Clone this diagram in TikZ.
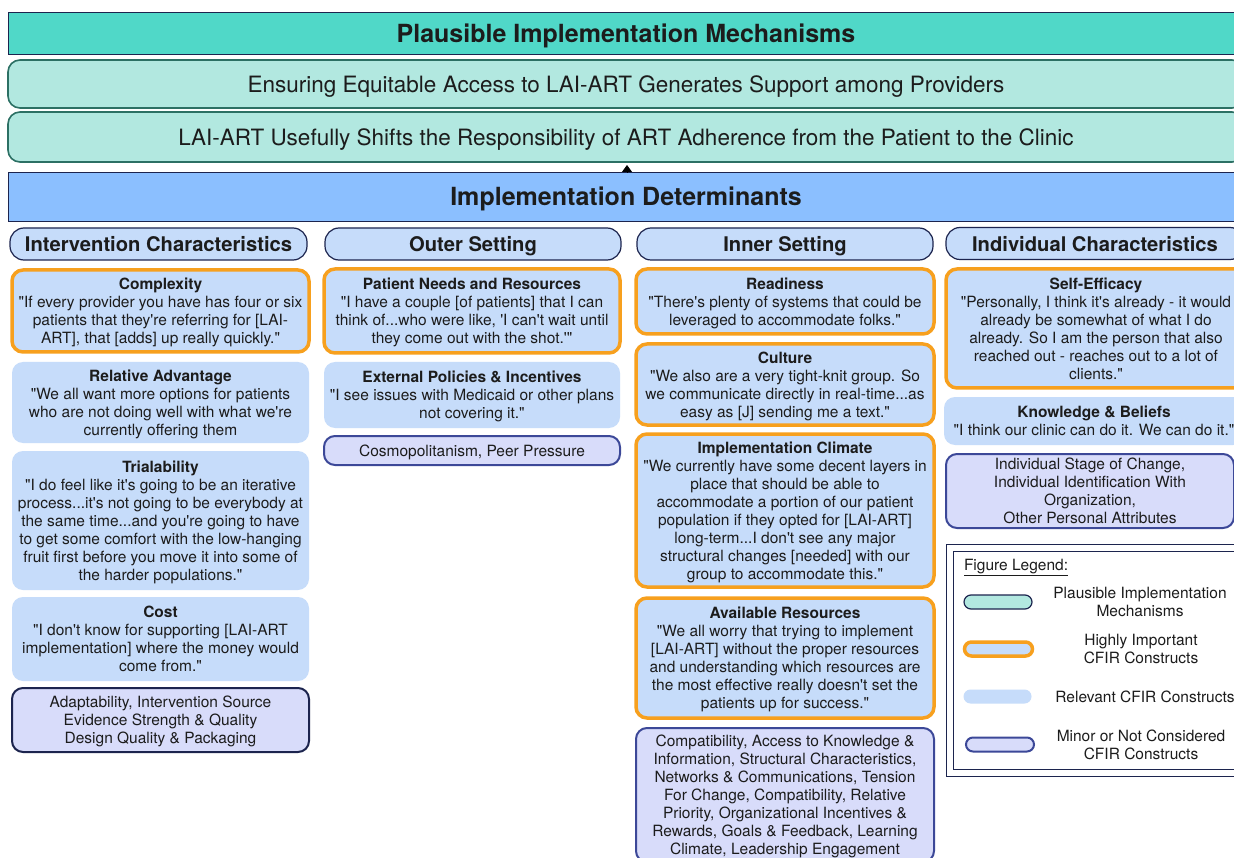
\documentclass[tikz,border=0pt]{standalone}
\usepackage{fontspec}
\setmainfont{TeX Gyre Heros}[Ligatures=TeXOff]
\usetikzlibrary{arrows.meta,positioning}
\definecolor{mechcol}{RGB}{80,216,200}
\definecolor{mechbarcol}{RGB}{178,232,224}
\definecolor{mechedge}{RGB}{44,112,100}
\definecolor{detcol}{RGB}{139,191,255}
\definecolor{navycol}{RGB}{28,36,78}
\definecolor{boxcol}{RGB}{198,220,250}
\definecolor{keycol}{RGB}{247,160,30}
\definecolor{minorcol}{RGB}{216,220,250}
\definecolor{minoredge}{RGB}{60,72,152}
\definecolor{txtcol}{RGB}{28,28,28}
\newcommand{\cfirbody}{\fontsize{15.5}{18}\selectfont}
\newcommand{\cfirhead}{\fontsize{20.2}{24}\selectfont\bfseries}
\newcommand{\cfirbig}{\fontsize{25}{30}\selectfont\bfseries}
\tikzset{
  % common cell settings (depth 0 so descenders do not lift the text)
  cell/.style={inner sep=0pt, outer sep=0pt, text=txtcol, align=center, text depth=0pt},
  % top banner: mechanisms
  mechhead/.style={cell, rectangle, draw=navycol, line width=0.8pt, fill=mechcol, font=\cfirbig},
  % mechanism bar
  mechbar/.style={cell, rectangle, rounded corners=12pt, draw=mechedge, line width=1.6pt, fill=mechbarcol,
                  font=\fontsize{22.5}{26}\selectfont},
  % banner: determinants
  dethead/.style={cell, rectangle, draw=navycol, line width=0.8pt, fill=detcol, font=\cfirbig},
  % CFIR domain header
  colhead/.style={cell, rectangle, rounded corners=14pt, draw=navycol, line width=1.2pt, fill=boxcol,
                  minimum height=32pt, font=\cfirhead},
  % highly important construct
  keybox/.style={cell, rectangle, rounded corners=11pt, draw=keycol, line width=3.5pt, fill=boxcol, font=\cfirbody},
  % relevant construct
  relbox/.style={cell, rectangle, rounded corners=11pt, fill=boxcol, font=\cfirbody},
  % minor / not considered constructs
  minorbox/.style={cell, rectangle, rounded corners=11pt, draw=minoredge, line width=2pt, fill=minorcol,
                   font=\cfirbody},
  % legend swatch
  swatch/.style={inner sep=0pt, rectangle, rounded corners=7pt, minimum width=68pt, minimum height=14pt},
  % legend label
  legtext/.style={cell, font=\cfirbody},
  % small link arrow
  linkarrow/.style={-{Triangle[length=7pt,width=10pt]}, line width=0.8pt, black},
}

\begin{document}
\begin{tikzpicture}[x=1pt, y=-1pt]
  \useasboundingbox (0,0) rectangle (1234,858);
  \fill[white] (0,0) rectangle (1234,858);
  \clip (0,0) rectangle (1234,858);
  % mechanisms
  \node[mechhead, minimum width=1236, minimum height=42] (plaus) at (626,33) {Plausible Implementation Mechanisms};
  \node[mechbar, minimum width=1236, minimum height=48] (mech1) at (626,84)
    {Ensuring Equitable Access to LAI-ART Generates Support among Providers};
  \node[mechbar, minimum width=1236, minimum height=50] (mech2) at (626,137)
    {LAI-ART Usefully Shifts the Responsibility of ART Adherence from the Patient to the Clinic};
  % determinants
  \node[dethead, minimum width=1236, minimum height=49] (dets) at (626,196.5) {Implementation Determinants};
  \draw[linkarrow] ([xshift=1pt]dets.north) -- ([xshift=1pt,yshift=-3pt]mech2.south);

  % domain headers
  \node[colhead, minimum width=297] (intchar) at (158.5,244) {Intervention Characteristics};
  \node[colhead, minimum width=296] (outer) at (473,244) {Outer Setting};
  \node[colhead, minimum width=296] (inner) at (785,244) {Inner Setting};
  \node[colhead, minimum width=298] (indiv) at (1095,243.5) {Individual Characteristics};

  % intervention characteristics
  \node[keybox, minimum width=297, minimum height=82] (complex) at (160.5,311)
    {\textbf{Complexity}\\ "If every provider you have has four or six\\ patients that they're referring for [LAI-\\ ART], that [adds] up really quickly."};
  \node[relbox, minimum width=297, minimum height=81] (reladv) at (160.5,402.5)
    {\textbf{Relative Advantage}\\ "We all want more options for patients\\ who are not doing well with what we're\\ currently offering them};
  \node[relbox, minimum width=297, minimum height=139] (trial) at (160.5,520.5)
    {\textbf{Trialability}\\ "I do feel like it's going to be an iterative\\ process...it's not going to be everybody at\\ the same time...and you're going to have\\ to get some comfort with the low-hanging\\ fruit first before you move it into some of\\ the harder populations."};
  \node[relbox, minimum width=297, minimum height=84] (cost) at (160.5,639)
    {\textbf{Cost}\\ "I don't know for supporting [LAI-ART\\ implementation] where the money would\\ come from."};
  \node[minorbox, draw=navycol, minimum width=297, minimum height=64] (intminor) at (160.5,720)
    {Adaptability, Intervention Source\\ Evidence Strength \& Quality\\ Design Quality \& Packaging};

  % outer setting
  \node[keybox, minimum width=296, minimum height=84] (needs) at (472,311)
    {\textbf{Patient Needs and Resources}\\ "I have a couple [of patients] that I can\\ think of...who were like, 'I can't wait until\\ they come out with the shot.'"};
  \node[relbox, minimum width=296, minimum height=66] (policy) at (472,395)
    {\textbf{External Policies \& Incentives}\\ "I see issues with Medicaid or other plans\\ not covering it."};
  \node[minorbox, minimum width=296, minimum height=29] (outminor) at (472,450.5)
    {Cosmopolitanism, Peer Pressure};

  % inner setting
  \node[keybox, minimum width=298, minimum height=65] (ready) at (785,301.5)
    {\textbf{Readiness}\\ "There's plenty of systems that could be\\ leveraged to accommodate folks."};
  \node[keybox, minimum width=298, minimum height=81] (culture) at (785,384.5)
    {\textbf{Culture}\\ "We also are a very tight-knit group. So\\ we communicate directly in real-time...as\\ easy as [J] sending me a text."};
  \node[keybox, minimum width=298, minimum height=153] (climate) at (785,510.5)
    {\textbf{Implementation Climate}\\ "We currently have some decent layers in\\ place that should be able to\\ accommodate a portion of our patient\\ population if they opted for [LAI-ART]\\ long-term...I don't see any major\\ structural changes [needed] with our\\ group to accommodate this."};
  \node[keybox, minimum width=298, minimum height=120] (resources) at (785,658)
    {\textbf{Available Resources}\\ "We all worry that trying to implement\\{}[LAI-ART] without the proper resources\\ and understanding which resources are\\ the most effective really doesn't set the\\ patients up for success."};
  \node[minorbox, minimum width=298, minimum height=134] (innminor) at (785,795)
    {Compatibility, Access to Knowledge \&\\ Information, Structural Characteristics,\\ Networks \& Communications, Tension\\ For Change, Compatibility, Relative\\ Priority, Organizational Incentives \&\\ Rewards, Goals \& Feedback, Learning\\ Climate, Leadership Engagement};

  % individual characteristics
  \node[keybox, minimum width=300, minimum height=119] (selfeff) at (1096,328.5)
    {\textbf{Self-Efficacy}\\ "Personally, I think it's already - it would\\ already be somewhat of what I do\\ already. So I am the person that also\\ reached out - reaches out to a lot of\\ clients."};
  \node[relbox, minimum width=300, minimum height=48] (beliefs) at (1094,421)
    {\textbf{Knowledge \& Beliefs}\\ "I think our clinic can do it. We can do it."};
  \node[minorbox, minimum width=288, minimum height=74] (indminor) at (1090,491)
    {Individual Stage of Change,\\ Individual Identification With\\ Organization,\\ Other Personal Attributes};

  % legend
  \draw[navycol, line width=0.8pt] (946,544) rectangle (1250,776);
  \draw[navycol, line width=0.8pt] (953,551) rectangle (1250,769);
  \node[legtext, anchor=west] (legtitle) at (964,565) {\underline{Figure Legend:}};
  \node[swatch, draw=navycol, line width=1.2pt, fill=mechbarcol] (sw1) at (998,602) {};
  \node[swatch, draw=keycol, line width=3.5pt, fill=boxcol] (sw2) at (998.5,649) {};
  \node[swatch, fill=boxcol] (sw3) at (997.5,696.5) {};
  \node[swatch, draw=minoredge, line width=2pt, fill=minorcol] (sw4) at (1000,744.5) {};
  \node[legtext] (lab1) at (1140,602) {Plausible Implementation\\ Mechanisms};
  \node[legtext] (lab2) at (1141,649) {Highly Important\\ CFIR Constructs};
  \node[legtext] (lab3) at (1145,697) {Relevant CFIR Constructs};
  \node[legtext] (lab4) at (1141,745) {Minor or Not Considered\\ CFIR Constructs};
\end{tikzpicture}
\end{document}
